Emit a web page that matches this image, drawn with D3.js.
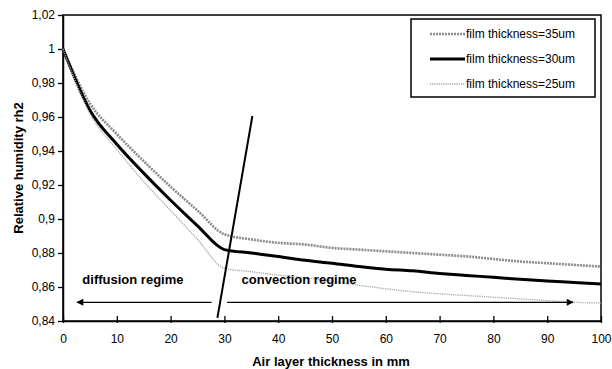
<!DOCTYPE html>
<html lang="en">
<head>
<meta charset="utf-8">
<title>Relative humidity vs air layer thickness</title>
<script src="https://cdn.jsdelivr.net/npm/d3@7"></script>
<style>
  body { margin: 0; background: #fff; }
  svg { display: block; font-family: Arial, "Liberation Sans", sans-serif; }
  .tick text { font-size: 12px; fill: #000; }
  .title { font-size: 13px; font-weight: bold; }
</style>
</head>
<body>
<svg id="chart" width="612" height="369"></svg>
<script>
// air layer thickness (mm)
var thickness = [0, 5, 10, 15, 20, 25, 30, 35, 40, 45, 50, 55, 60, 65, 70, 75, 80, 85, 90, 95, 100];

// relative humidity rh2 per film thickness
var film35 = [1, 0.968, 0.950, 0.934, 0.919, 0.905, 0.891, 0.888, 0.886, 0.885, 0.883, 0.882, 0.881, 0.880, 0.879, 0.878, 0.8765, 0.875, 0.874, 0.873, 0.872];
var film30 = [1, 0.964, 0.944, 0.927, 0.911, 0.896, 0.882, 0.880, 0.878, 0.8757, 0.874, 0.872, 0.8705, 0.8695, 0.868, 0.8668, 0.8657, 0.8645, 0.8635, 0.8627, 0.8618];
var film25 = [1, 0.962, 0.941, 0.922, 0.905, 0.888, 0.871, 0.869, 0.867, 0.8655, 0.8635, 0.861, 0.859, 0.8572, 0.856, 0.855, 0.854, 0.853, 0.852, 0.851, 0.8506];

var seriesNames = ["film thickness=35um", "film thickness=30um", "film thickness=25um"];

var xTicks = [0, 10, 20, 30, 40, 50, 60, 70, 80, 90, 100];
var yTicks = [0.84, 0.86, 0.88, 0.9, 0.92, 0.94, 0.96, 0.98, 1, 1.02];

// regime divider line and arrows (data units)
var dividerX = [28.7, 35.2];
var dividerY = [0.8418, 0.9606];
var diffusionArrow = [27.6, 2.6];   // from -> to
var convectionArrow = [30.5, 94.8];
var arrowY = 0.851;
var diffusionLabel = "diffusion regime";
var convectionLabel = "convection regime";

var svg = d3.select("#chart");
var plotL = 63, plotR = 601, plotT = 15, plotB = 321;

var x = d3.scaleLinear().domain([0, 100]).range([plotL, plotR]);
var y = d3.scaleLinear().domain([0.84, 1.02]).range([plotB, plotT]);

var fmt = function(d) { return String(+d.toFixed(2)).replace(".", ","); };

// arrow marker
svg.append("defs").append("marker")
  .attr("id", "head")
  .attr("viewBox", "0 0 10 10")
  .attr("refX", 9).attr("refY", 5)
  .attr("markerWidth", 8).attr("markerHeight", 7)
  .attr("markerUnits", "userSpaceOnUse")
  .attr("orient", "auto")
  .append("path").attr("d", "M0,0L10,5L0,10Z").attr("fill", "#000");

// frame
svg.append("rect")
  .attr("x", plotL).attr("y", plotT)
  .attr("width", plotR - plotL).attr("height", plotB - plotT)
  .attr("fill", "none").attr("stroke", "#000").attr("stroke-width", 1.5);

// axes
var xAxis = svg.append("g")
  .attr("transform", "translate(0," + plotB + ")")
  .call(d3.axisBottom(x).tickValues(xTicks).tickSizeInner(-5).tickSizeOuter(0).tickPadding(13));
xAxis.selectAll(".tick line").attr("y2", -5).attr("y1", 2).attr("stroke-width", 1.3);
xAxis.select(".domain").attr("stroke-width", 1.5);

var yAxis = svg.append("g")
  .attr("transform", "translate(" + plotL + ",0)")
  .call(d3.axisLeft(y).tickValues(yTicks).tickFormat(fmt).tickSizeInner(5).tickSizeOuter(0).tickPadding(3));
yAxis.selectAll(".tick line").attr("stroke-width", 1.3);
yAxis.select(".domain").attr("stroke-width", 1.5);

// series
var styles = [
  { values: film35, stroke: "#8c8c8c", width: 2.6, dash: "2,1" },
  { values: film30, stroke: "#000", width: 3, dash: null },
  { values: film25, stroke: "#a8a8a8", width: 1.4, dash: "1.2,1" }
];

var line = d3.line()
  .curve(d3.curveMonotoneX)
  .x(function(d, i) { return x(thickness[i]); })
  .y(function(d) { return y(d); });

svg.selectAll(".series")
  .data(styles)
  .enter().append("path")
  .attr("class", "series")
  .attr("d", function(s) { return line(s.values); })
  .attr("fill", "none")
  .attr("stroke", function(s) { return s.stroke; })
  .attr("stroke-width", function(s) { return s.width; })
  .attr("stroke-dasharray", function(s) { return s.dash; });

// divider
svg.append("line")
  .attr("x1", x(dividerX[0])).attr("y1", y(dividerY[0]))
  .attr("x2", x(dividerX[1])).attr("y2", y(dividerY[1]))
  .attr("stroke", "#000").attr("stroke-width", 2);

// regime arrows
[diffusionArrow, convectionArrow].forEach(function(a) {
  svg.append("line")
    .attr("x1", x(a[0])).attr("y1", y(arrowY))
    .attr("x2", x(a[1])).attr("y2", y(arrowY))
    .attr("stroke", "#000").attr("stroke-width", 1.3)
    .attr("marker-end", "url(#head)");
});

svg.append("text").attr("class", "title")
  .attr("x", x(3.6)).attr("y", y(0.8616))
  .text(diffusionLabel);
svg.append("text").attr("class", "title")
  .attr("x", x(33.2)).attr("y", y(0.8616))
  .text(convectionLabel);

// legend
var lg = svg.append("g");
lg.append("rect")
  .attr("x", 411).attr("y", 19).attr("width", 184).attr("height", 78)
  .attr("fill", "#fff").attr("stroke", "#000").attr("stroke-width", 1.5);
styles.forEach(function(s, i) {
  var cy = 34 + i * 25;
  lg.append("line")
    .attr("x1", 430).attr("x2", 465).attr("y1", cy).attr("y2", cy)
    .attr("stroke", s.stroke).attr("stroke-width", s.width)
    .attr("stroke-dasharray", s.dash);
  lg.append("text")
    .attr("x", 466).attr("y", cy + 4)
    .attr("font-size", 12)
    .text(seriesNames[i]);
});

// axis titles
svg.append("text").attr("class", "title")
  .attr("text-anchor", "middle")
  .attr("transform", "translate(23,168) rotate(-90)")
  .text("Relative humidity rh2");
svg.append("text").attr("class", "title")
  .attr("text-anchor", "middle")
  .attr("x", 331).attr("y", 366)
  .text("Air layer thickness in mm");
</script>
</body>
</html>
